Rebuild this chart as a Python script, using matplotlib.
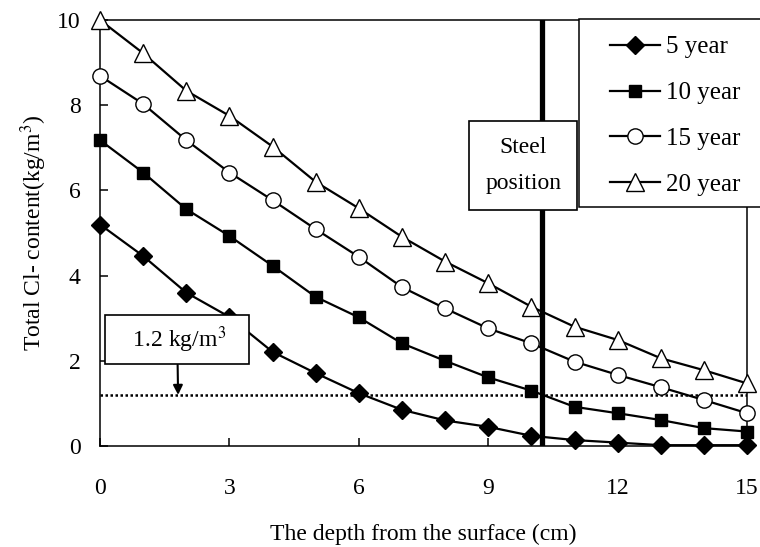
import numpy as np
import matplotlib
matplotlib.use("Agg")
import matplotlib.pyplot as plt
from matplotlib.patches import Rectangle

plt.rcParams["font.family"] = ["Liberation Serif", "DejaVu Serif"]
plt.rcParams["mathtext.fontset"] = "stix"

depth = list(range(16))
cl_5yr = [5.2, 4.46, 3.6, 3.03, 2.21, 1.71, 1.24, 0.85, 0.6, 0.45, 0.24, 0.14, 0.08, 0.02, 0.02, 0.02]
cl_10yr = [7.18, 6.42, 5.56, 4.93, 4.23, 3.5, 3.02, 2.41, 2.0, 1.61, 1.3, 0.92, 0.77, 0.61, 0.42, 0.34]
cl_15yr = [8.69, 8.03, 7.18, 6.42, 5.77, 5.09, 4.44, 3.73, 3.23, 2.76, 2.41, 1.98, 1.67, 1.38, 1.08, 0.77]
cl_20yr = [10.0, 9.22, 8.34, 7.75, 7.03, 6.2, 5.58, 4.91, 4.33, 3.82, 3.27, 2.8, 2.49, 2.06, 1.78, 1.47]
labels = ["5 year", "10 year", "15 year", "20 year"]
threshold = 1.2
steel_depth = 10.25

fig = plt.figure(figsize=(7.6, 5.47), dpi=100)
ax = fig.add_axes([0.1316, 0.1846, 0.8514, 0.7788])

common = dict(color="black", lw=1.6, clip_on=False, zorder=3)
h5, = ax.plot(depth, cl_5yr, marker="D", ms=9, mfc="black", mec="black", **common)
h10, = ax.plot(depth, cl_10yr, marker="s", ms=9, mfc="black", mec="black", **common)
h15, = ax.plot(depth, cl_15yr, marker="o", ms=11, mfc="white", mec="black", mew=1.0, **common)
h20, = ax.plot(depth, cl_20yr, marker="^", ms=12.5, mfc="white", mec="black", mew=1.0, **common)

# chloride threshold
ax.axhline(threshold, color="black", lw=1.8, ls=(0, (1, 1)), zorder=2)
ax.annotate("   1.2 kg/m$^3$   ", xy=(1.81, threshold), xytext=(1.79, 2.5),
            ha="center", va="center", fontsize=17,
            bbox=dict(boxstyle="square,pad=0.4", fc="white", ec="black", lw=1.2),
            arrowprops=dict(arrowstyle="-|>", color="black", lw=1.5, mutation_scale=14,
                            shrinkA=0, shrinkB=0),
            zorder=4)

# steel position
ax.axvline(steel_depth, color="black", lw=3.8, zorder=4)
ax.text(9.81, 6.58, "Steel\nposition", ha="center", va="center", fontsize=17,
        linespacing=1.95,
        bbox=dict(boxstyle="square,pad=0.68", fc="white", ec="black", lw=1.2), zorder=5)

ax.set_xlim(0, 15)
ax.set_ylim(0, 10)
ax.set_xticks([0, 3, 6, 9, 12, 15])
ax.set_yticks([0, 2, 4, 6, 8, 10])
ax.tick_params(direction="in", length=6, width=1.1, labelsize=17)
ax.tick_params(axis="x", pad=23)
ax.tick_params(axis="y", pad=14)
for s in ax.spines.values():
    s.set_linewidth(1.1)

ax.set_xlabel("The depth from the surface (cm)", fontsize=17, labelpad=18)
ax.set_ylabel("Total Cl- content(kg/m$^3$)", fontsize=17, labelpad=6)

# legend frame sits over the top-right corner and runs off the figure
W, H = 760.0, 547.0
fig.patches.append(Rectangle((579 / W, 1 - 207 / H), 200 / W, 188 / H,
                             transform=fig.transFigure, fc="white", ec="black",
                             lw=1.1, zorder=4))
leg = fig.legend([h5, h10, h15, h20], labels, loc="upper left",
                 bbox_to_anchor=(610 / W, 1 - 36 / H), fontsize=18, frameon=False,
                 handlelength=2.0, labelspacing=0.93, borderpad=0, borderaxespad=0,
                 handletextpad=0.25)
leg.set_zorder(6)

fig.savefig("out.png", dpi=100)
